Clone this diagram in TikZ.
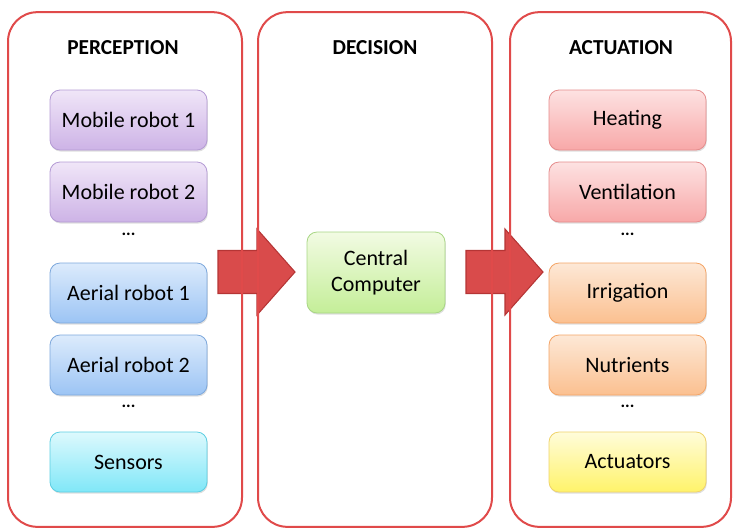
\documentclass[tikz,border=0pt]{standalone}
\usepackage{fontspec}
\setmainfont{Carlito}
\usetikzlibrary{positioning}
\usetikzlibrary{shadows}

\definecolor{panelred}{HTML}{E04A4A}
\definecolor{arrowfill}{HTML}{D94B4B}
\definecolor{arrowline}{HTML}{B53535}
% box colours: top, bottom, border
\definecolor{mobT}{HTML}{F0E6F8} \definecolor{mobB}{HTML}{CDB3E6} \definecolor{mobD}{HTML}{B49BD4}
\definecolor{aerT}{HTML}{DCEBFC} \definecolor{aerB}{HTML}{9CC4F4} \definecolor{aerD}{HTML}{7DA8DC}
\definecolor{senT}{HTML}{DDF9FD} \definecolor{senB}{HTML}{80E7F8} \definecolor{senD}{HTML}{5CCEE2}
\definecolor{cpuT}{HTML}{F2FBE3} \definecolor{cpuB}{HTML}{C4EE98} \definecolor{cpuD}{HTML}{A8D684}
\definecolor{heaT}{HTML}{FDE2E2} \definecolor{heaB}{HTML}{F8A8A8} \definecolor{heaD}{HTML}{E58C8C}
\definecolor{irrT}{HTML}{FDE8D6} \definecolor{irrB}{HTML}{FBC090} \definecolor{irrD}{HTML}{F4A466}
\definecolor{actT}{HTML}{FFFCDA} \definecolor{actB}{HTML}{FFF36A} \definecolor{actD}{HTML}{EFD36A}

\tikzset{
  panel/.style   = {draw=panelred, line width=1.5pt, rounded corners=22pt,
                    minimum height=386pt},
  heading/.style = {font=\fontsize{16}{18}\selectfont\bfseries},
  block/.style   = {draw, rounded corners=7.5pt, shading=axis, line width=0.6pt,
                    text=black, minimum width=117.75pt, minimum height=45pt,
                    font=\fontsize{16.5}{19}\selectfont,
                    drop shadow={shadow xshift=0.6pt, shadow yshift=-1.2pt, opacity=0.25}},
  dots/.style    = {font=\fontsize{13}{15}\selectfont\bfseries},
  mobile/.style  = {block, draw=mobD, top color=mobT, bottom color=mobB},
  aerial/.style  = {block, draw=aerD, top color=aerT, bottom color=aerB},
  sensor/.style  = {block, draw=senD, top color=senT, bottom color=senB},
  brain/.style   = {block, draw=cpuD, top color=cpuT, bottom color=cpuB,
                    minimum width=103.5pt, minimum height=60.75pt, align=center},
  warm/.style    = {block, draw=heaD, top color=heaT, bottom color=heaB},
  water/.style   = {block, draw=irrD, top color=irrT, bottom color=irrB},
  motor/.style   = {block, draw=actD, top color=actT, bottom color=actB},
  bigarrow/.style= {draw=arrowline, fill=arrowfill, line width=0.8pt, line join=miter},
}

\begin{document}
\begin{tikzpicture}[x=0.75pt, y=-0.75pt]
        \useasboundingbox (0,0) rectangle (734,529);

        % block arrows
        \coordinate (a1) at (218, 272);
        \coordinate (a2) at (466, 272);
        \draw[bigarrow] (a1) ++(0,-21.5) -- ++(39,0) -- ++(0,-21.5) -- ++(38,43)
                        -- ++(-38,43) -- ++(0,-21.5) -- ++(-39,0) -- cycle;
        \draw[bigarrow] (a2) ++(0,-21.5) -- ++(39,0) -- ++(0,-21.5) -- ++(38,43)
                        -- ++(-38,43) -- ++(0,-21.5) -- ++(-39,0) -- cycle;

        % panels
        \node[panel, minimum width=175.5pt]  (perc) at (125, 269.5) {};
        \node[panel, minimum width=175.5pt]  (dec)  at (375, 269.5) {};
        \node[panel, minimum width=165.75pt] (act)  at (620.5, 269.5) {};

        \node[heading] (percT) at (123, 48) {PERCEPTION};
        \node[heading] (decT)  at (375, 48) {DECISION};
        \node[heading] (actT)  at (621, 48) {ACTUATION};

        % perception
        \node[mobile] (mob1) at (128.5, 120) {Mobile robot 1};
        \node[mobile] (mob2) at (128.5, 192) {Mobile robot 2};
        \node[dots]   (d1)   at (128.5, 234) {...};
        \node[aerial] (aer1) at (128.5, 293) {Aerial robot 1};
        \node[aerial] (aer2) at (128.5, 365) {Aerial robot 2};
        \node[dots]   (d2)   at (128.5, 406) {...};
        \node[sensor] (sens) at (128.5, 462) {Sensors};

        % decision
        \node[brain]  (cpu)  at (376, 272.5) {Central\\Computer};

        % actuation
        \node[warm]   (heat) at (627.5, 120) {Heating};
        \node[warm]   (vent) at (627.5, 192) {Ventilation};
        \node[dots]   (d3)   at (627.5, 234) {...};
        \node[water]  (irr)  at (627.5, 293) {Irrigation};
        \node[water]  (nut)  at (627.5, 365) {Nutrients};
        \node[dots]   (d4)   at (627.5, 406) {...};
        \node[motor]  (actu) at (627.5, 462) {Actuators};
      \end{tikzpicture}
\end{document}
